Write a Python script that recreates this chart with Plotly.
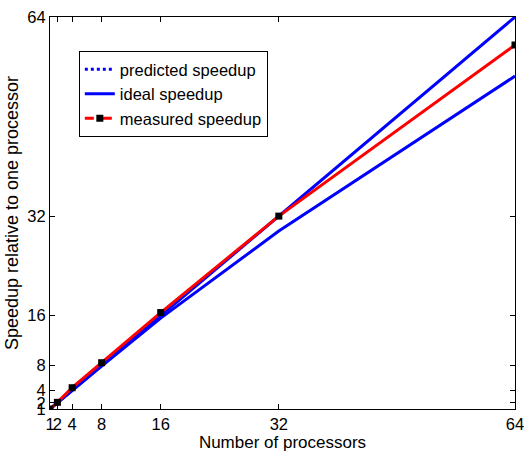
import plotly.graph_objects as go

procs = [1, 2, 4, 8, 16, 32, 64]
ideal = [1, 2, 4, 8, 16, 32, 64]
predicted = [1, 2, 3.97, 7.9, 15.6, 29.6, 54.5]
measured = [1, 2.07, 4.42, 8.44, 16.5, 32, 59.5]
ticks = [1, 2, 4, 8, 16, 32, 64]

BLUE = "#0000ff"
RED = "#ff0000"
FONT = "Liberation Sans, Arial, sans-serif"

fig = go.Figure()
# plotted curves
fig.add_trace(go.Scatter(x=procs, y=predicted, mode="lines",
                         line=dict(color=BLUE, width=3), showlegend=False))
fig.add_trace(go.Scatter(x=procs, y=ideal, mode="lines",
                         line=dict(color=BLUE, width=3), showlegend=False))
fig.add_trace(go.Scatter(x=procs, y=measured, mode="lines+markers",
                         line=dict(color=RED, width=3),
                         marker=dict(symbol="square", size=7, color="black"),
                         showlegend=False))
# legend entries
fig.add_trace(go.Scatter(x=[None], y=[None], mode="lines", name="predicted speedup",
                         line=dict(color=BLUE, width=3, dash="dot")))
fig.add_trace(go.Scatter(x=[None], y=[None], mode="lines", name="ideal speedup",
                         line=dict(color=BLUE, width=3)))
fig.add_trace(go.Scatter(x=[None], y=[None], mode="lines+markers", name="measured speedup",
                         line=dict(color=RED, width=3, dash="dash"),
                         marker=dict(symbol="square", size=7, color="black")))

axis_common = dict(
    showline=True, linecolor="black", linewidth=1, mirror="ticks",
    ticks="inside", ticklen=5, tickcolor="black", showgrid=False,
    zeroline=False, tickangle=0, ticklabeloverflow="allow",
    tickfont=dict(family=FONT, size=16.5, color="black"),
)
fig.update_xaxes(range=[1, 64], tickvals=ticks, ticktext=[str(t) for t in ticks],
                 title=dict(text="Number of processors", standoff=2,
                            font=dict(family=FONT, size=17, color="black")),
                 automargin=False, **axis_common)
fig.update_yaxes(range=[1, 64], tickvals=ticks, ticktext=[str(t) for t in ticks],
                 title=dict(text="Speedup relative to one processor", standoff=4,
                            font=dict(family=FONT, size=18, color="black")),
                 automargin=False, **axis_common)

fig.update_layout(
    width=524, height=454,
    margin=dict(l=50, r=9, t=17, b=45),
    paper_bgcolor="white", plot_bgcolor="white",
    font=dict(family=FONT, size=16.5, color="black"),
    legend=dict(x=0.062, y=0.913, xanchor="left", yanchor="top",
                bordercolor="black", borderwidth=1, bgcolor="white",
                font=dict(family=FONT, size=16.5, color="black"),
                tracegroupgap=0, itemwidth=30,
                entrywidth=195, entrywidthmode="pixels"),
)

fig.write_html("out.html")
